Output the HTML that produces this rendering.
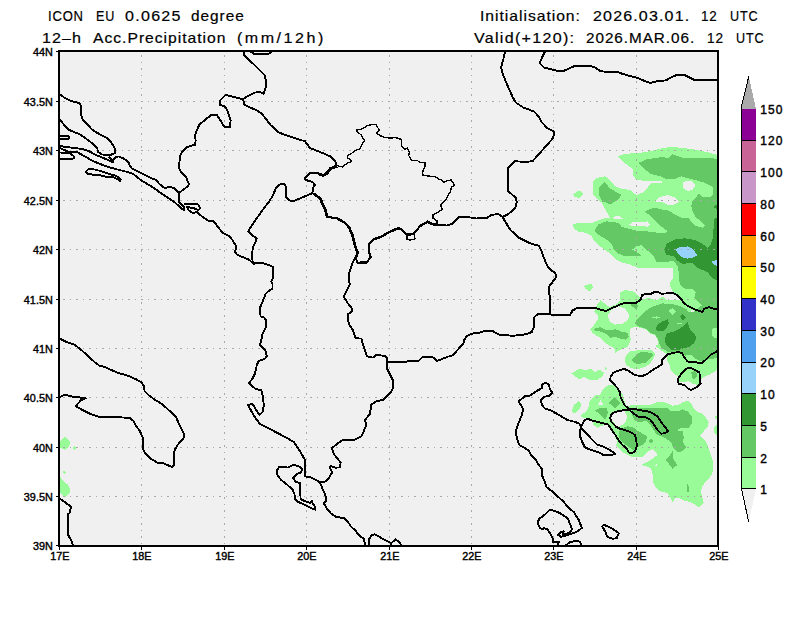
<!DOCTYPE html>
<html><head><meta charset="utf-8"><title>ICON EU precipitation</title>
<style>
html,body{margin:0;padding:0;background:#fff;}
body{width:800px;height:618px;position:relative;overflow:hidden;font-family:"Liberation Sans",sans-serif;color:#000;}
.t{position:absolute;white-space:nowrap;line-height:1;}
.ttl{font-size:13.6px;-webkit-text-stroke:0.2px #000;}
.ax{font-size:10.8px;letter-spacing:0.1px;-webkit-text-stroke:0.4px #000;}
.cb{font-size:12px;letter-spacing:1.1px;-webkit-text-stroke:0.4px #000;}
</style></head><body>
<svg width="800" height="618" viewBox="0 0 800 618" shape-rendering="crispEdges" style="position:absolute;left:0;top:0">
<rect x="59.25" y="51.25" width="658.85" height="494.54999999999995" fill="#f0f0f0"/>
<defs><clipPath id="cp"><rect x="59.25" y="51.25" width="658.85" height="494.54999999999995"/></clipPath></defs>
<g clip-path="url(#cp)">
<polygon points="618.1,156.25 625,153.75 637.5,153.1 650,151.25 662.5,148.1 672.5,146.9 683.75,148.1 693.75,149.4 706.25,151.9 718,155 718,368.75 715,371.25 710,374.4 703.75,376.9 700,380 700,382.5 697.5,385 692.5,383.75 688.75,381.25 685,381.9 678.75,382.5 678.75,376.9 675,374.4 671.25,371.25 669.4,365 666.9,360 667.5,354.4 662.5,351.25 655.6,346.25 658.1,344 657.5,339.6 655,335.25 650,333.4 646.25,329.6 641.25,327.75 634.4,327.1 630,329 630.6,339 630,342.5 627.5,346.9 622.5,348.75 618.75,350.6 615,353.1 614.4,348.1 610,346.25 603.75,341.5 600,337.75 593.75,334 590,329.6 593.75,325.25 598.1,319 597.5,315.25 594.4,311.5 596.25,305.9 600.6,300.25 606.9,305.25 610,307 616.2,304.2 620,300 620,292.1 625,290.25 632.5,290.9 636.25,293.4 640,297.75 642.5,299 650,298 656.25,300.5 662.5,296.5 666.25,300 681.25,299.6 673.1,291.5 669.4,285.25 671.9,279 673.1,278.5 672.5,267.6 661.25,268.25 650,267.6 637.5,267.6 630,264.5 622.5,262.6 616.25,259.5 610,253.25 602.5,248.25 595,242 591.25,235.75 585,232.6 578.75,232 573.75,228.25 572.5,224.25 579.4,222.6 586.25,222.6 592.5,222.6 598.75,220.1 605,218.25 610,217.6 607.5,213.25 603.75,207 601.25,202 598.5,200.5 595,197 592.5,193.75 593.1,181.25 596.25,178.1 605,176.25 610,180 615,186.25 621.25,188.75 630,190 636.25,195 642.5,192.5 647.5,187.5 651.25,182.5 661.9,182.5 661.9,181 655,180.6 642.5,180.6 636.25,179.4 632.5,175 632.5,168.75 622.5,161.25" fill="#98fb98"/>
<polygon points="682.5,183.2 685.5,180.8 691.5,180.8 695.5,185.2 692.5,189.8 687.5,191.2 683.5,188.2" fill="#f0f0f0"/>
<polygon points="655.6,201.5 658.75,197.5 667.5,195 675,197.5 678.75,201.5 677.5,203 672.5,205.1 667.5,204.5 661.9,202" fill="#f0f0f0"/>
<polygon points="629.4,224.5 632.5,222 646.25,222 646.9,220.75 650,224.5 646.9,227 645,226 632.5,226" fill="#f0f0f0"/>
<polygon points="611.25,218.25 616.25,216 620,216.4 623.1,218.9 617.5,218.9" fill="#f0f0f0"/>
<polygon points="607.5,315.25 611.25,310.25 617.5,305.9 625,308.4 629.4,315.25 627.5,320.25 622.5,324 615,324.6 610,322.1" fill="#f0f0f0"/>
<polygon points="584,285.9 591.25,283.4 593.1,287.1 590,291.5 585,288.4" fill="#98fb98"/>
<polygon points="573.1,194.2 579.1,190.2 583.7,194.2 579.1,198.6 574.5,196.6" fill="#98fb98"/>
<polygon points="626.25,355 630,351.25 637.5,350.25 645,349.75 652.5,350.6 655.6,353.75 653.1,358.75 650,363.75 645,366.9 637.5,369.4 631.25,368.1 626.25,365 624.5,360" fill="#98fb98"/>
<polygon points="571.25,373.5 578.75,369 586.25,370 590.6,368.75 595,371.9 600,369.4 604.4,373.1 601.25,377.5 596.25,380.25 590.6,380.25 583.75,376.9 580,379.4 575.6,376.9" fill="#98fb98"/>
<polygon points="605,367 607,368 605.5,370" fill="#98fb98"/>
<polygon points="572,411.25 573.75,405 578.75,401.25 581.7,404 580,408.1 576.25,412.5 573.1,413.1" fill="#98fb98"/>
<polygon points="60,442 64.8,436.8 70.5,442 68.8,446.8 64.8,450 60,447.4" fill="#98fb98"/>
<polygon points="72.6,447.8 74.4,445.6 76.2,448 74.4,450.2" fill="#98fb98"/>
<polygon points="60,476.9 63.75,481.25 67.5,484.4 70.6,490 69.4,493.75 65,496.9 60,492.5" fill="#98fb98"/>
<polygon points="62.6,472.25 64.4,470.4 66.2,472.25 64.4,474.1" fill="#98fb98"/>
<polygon points="608.75,385 615,385.6 618.75,389.4 622.5,393.75 623.75,398.75 626.25,406.25 632.5,405 641.25,405.25 650,405 656.25,402.5 662.5,401.9 667.5,403.1 672.5,405.6 677.5,405.25 682.5,402.5 687.5,400.6 691.25,403.75 693.75,408.75 697.5,411.9 702.5,413.75 706.25,418.1 708.75,422.5 707.5,426.9 703.75,431.25 700,435.6 705,440 707.5,445 710,452.5 712.5,460 713.1,470 711.25,475.6 707.5,480 703.1,485 700.6,491.25 702.5,497.5 703.75,503.1 698.75,507.5 695,504.4 690,501.9 683.75,500.6 678.75,497.5 675.6,498.1 672.5,501.9 670,497.5 667.5,493.1 660,491.25 655,486.25 652.5,481.25 652.5,473.75 651.25,468.75 646.25,466.25 641.25,465 646.25,462.5 652.5,458.75 657.5,455 656.25,452.5 652.5,449.4 648.75,451.25 642.5,456.9 633.75,457.5 627.5,455 621.25,451.25 616.25,446.25 616.9,441.25 615,436.25 611.25,430 608.1,424.4 603.75,425 597.5,427.5 593.75,425.6 592.5,421.25 585,418.1 580,416.25 586.25,411.25 588.75,406.25 590,400 595,395.6 600,394.4 603.75,388.1" fill="#98fb98"/>
<polygon points="718,415 714.4,416.9 718,420" fill="#98fb98"/>
<polygon points="718,424.4 714.4,426.9 714,432.5 718,436.9" fill="#98fb98"/>
<polygon points="611.25,414.4 616.25,411.9 625,411.25 626.9,416.25 626.25,421.25 622.5,425 617.5,426.9 613.75,422.5 611.25,418.75" fill="#f0f0f0"/>
<polygon points="598.1,405 600.6,400 603.5,405" fill="#f0f0f0"/>
<polygon points="655,465.25 656.25,464 657.5,465.25 656.25,466.5" fill="#f0f0f0"/>
<polygon points="638.1,163.1 646.25,159.4 658.75,157.5 663.75,156.9 667.5,158.5 672.5,154.4 683.75,158.1 698.75,157.75 712.5,158.1 718,159.4 718,200 713.5,195 712.5,186.9 703.75,182.5 695,180 687.5,178.1 681.25,176.25 673.75,179.4 667.5,179.4 660,176.25 650,173.75 643.75,168.1" fill="#64c864"/>
<polygon points="598.75,187.5 605,181.9 610,188.75 615,191.25 621.25,194.4 620,197.5 615,201.5 610,204.5 605,202 602.5,201.5 598.75,195" fill="#64c864"/>
<polygon points="692.5,201.5 691.25,205.75 692.5,210.75 695,216.4 700,220.75 705,225.1 702.5,227.6 695,225.75 691.25,222 688.75,217.6 681.25,217.6 675,214.5 668.75,210.75 662.5,209.5 653.75,207.6 645,211.4 650,215.75 655,220.75 661.25,226.4 666.9,230.75 666.25,232.6 656.25,232.6 647.5,231.4 637.5,230.75 630,228.9 621.25,227 620,223.9 615,222 606.25,221.4 598.1,224.5 594.4,231.4 600,235.75 606.25,239.5 611.9,243.9 613.75,249.5 617.5,253.25 623.75,255.75 632.5,255.75 641.25,256.4 641.25,255.1 636.25,252 632.5,249.5 636.25,246.4 641.25,245.1 645,248.9 651.25,253.25 654.4,257.6 656.25,262 666.25,262 673.1,260.75 677.5,265.75 678.75,272 678.75,279 680,284.6 683.75,288.4 692.5,289 695.6,292.1 694.4,297.75 700,303.4 701.9,305.25 697.5,309 693.1,312.1 687.5,311.5 686.25,309 680,305.9 675,304.6 668.75,304 662.5,303.4 656.25,305.25 650,307.75 645,311.5 640,316.5 634.4,322.75 637.5,325.9 641.25,327.1 646.25,329 650,332.75 655,334.6 658.1,339 658.75,342.75 661.25,347.75 667.5,351.5 672.5,352.5 681.9,353.1 685,355.6 691.25,355 695,358.75 700,361.25 705,360 712.5,358.75 718,357.5 718,194 714.4,194.4 710,196.9 701.9,196.9 698.75,193.75" fill="#64c864"/>
<polygon points="668.75,310.9 672.5,307.75 675.6,311.5 672.5,314.6" fill="#98fb98"/>
<polygon points="711.9,329 714.4,327.75 718,329 718,337.75 714.4,337.75 711.9,335.25" fill="#98fb98"/>
<polygon points="652,317 660,317 660,318 652,318" fill="#98fb98"/>
<polygon points="656,316 657,316 657,319 656,319" fill="#98fb98"/>
<polygon points="677,323 682,323 682,324 677,324" fill="#98fb98"/>
<polygon points="691.3,310.3 693.7,310.3 693.7,312.2 691.3,312.2" fill="#f0f0f0"/>
<polygon points="593.75,329 600,327.1 606.25,330.25 611.25,330.25 615,329 621.25,331.5 627.5,332.75 628.75,336.5 626.25,339.6 621.25,339 616.25,337.1 610,337.75 606.25,334 600,331.5 595,330.9" fill="#64c864"/>
<polygon points="630,304.6 636.25,304 638.1,305.9 636.25,309.6 633.1,307.1" fill="#64c864"/>
<polygon points="631.25,360 636.25,355 641.25,351.5 647.5,352.5 653.75,354 650,358.75 645.6,362.5 637.5,364.4 633.75,362.5" fill="#64c864"/>
<polygon points="691.25,372.5 695,370.6 697.5,373.75 696.25,377.5 693.1,379.75 691.9,376.25" fill="#64c864"/>
<polygon points="595,410.6 600,408.1 606.25,407.5 608.1,412.5 606.9,416.25 605,419.4 600,414.4" fill="#64c864"/>
<polygon points="608.75,403.1 615,396.9 620,403.1 615,408.1" fill="#64c864"/>
<polygon points="618.75,431.25 622.5,428.1 627.5,426.25 632.5,426.9 637.5,430.6 642.5,433.75 646.9,436.25 646.25,441.25 642.5,445 637.5,446.9 635,451.25 628.75,446.9 623.75,443.75 620,440 618.75,435" fill="#64c864"/>
<polygon points="631.25,410.6 637.5,408.5 650,408.1 667.5,408.1 671.25,411.25 677.5,411.25 682.5,409.4 687.5,411.25 691.9,416.25 691.9,423.75 688.75,427.5 677.5,428.75 677.5,431.25 682.5,431.25 683.75,437.5 683.1,442.5 686.25,447.5 682.5,451.25 677.5,451.9 673.1,447.5 671.25,442.5 666.25,438.75 661.25,436.25 656.25,434.4 653.75,430 650,424.4 645.6,420.6 640,422.5 635,420.6 632.5,416.25" fill="#64c864"/>
<polygon points="648.1,441 651.25,439 654,441 651.25,443.1" fill="#64c864"/>
<polygon points="665.6,459.4 669.4,456.25 672.5,451.25 673.1,458.75 677.5,465 672.5,468.75 668.75,463.75" fill="#64c864"/>
<polygon points="687.25,484 688.75,487 688.5,492 687.25,492.5" fill="#64c864"/>
<polygon points="718,217 714.4,218.9 713.75,227 712.5,239.5 710.6,245.1 707.5,247.6 702.5,243.9 695,240.1 685,238.25 675,239.5 666.9,243.25 664.4,249.5 666.25,255.1 673.1,255.75 677.5,260.75 682.5,263.9 687.5,263.25 693.1,263.25 696.25,267 702.5,270.1 707.5,272 711.25,277 713.1,279 718,280.5" fill="#329632"/>
<polygon points="713.1,207 718,203.9 718,209.5" fill="#329632"/>
<polygon points="655.6,328.4 658.1,324 662.5,321.5 668.1,319.25 668.75,323.4 666.25,328.4 662.5,331.5 657.5,330.9" fill="#329632"/>
<polygon points="680,316.5 682.75,314 686,317.1 682.75,320.25" fill="#329632"/>
<polygon points="665,337.75 666.9,333.4 673.75,331.5 678.75,329 683.75,325.9 687.5,322.1 690,329 694.4,334 696.25,337.75 694.4,342.75 690,346.5 683.75,348.4 677.5,350.25 671.25,349.6 666.25,345.25 665,341.5" fill="#329632"/>
<polygon points="675.6,249.5 678.75,247.6 687.5,246.4 692.5,248.9 697.5,255.1 693.1,257.6 687.5,258.5 681.25,257 677.5,253.25" fill="#96d2fa"/>
<polygon points="711.25,261.75 718,259.75 718,267 715,265.1" fill="#96d2fa"/>
</g>
<g stroke="#a8a8a8" stroke-width="1" stroke-dasharray="2 4.5 1 5.5" fill="none">
<line x1="141.5" y1="55.25" x2="141.5" y2="545.8"/>
<line x1="224.5" y1="55.25" x2="224.5" y2="545.8"/>
<line x1="306.5" y1="55.25" x2="306.5" y2="545.8"/>
<line x1="389.5" y1="55.25" x2="389.5" y2="545.8"/>
<line x1="471.5" y1="55.25" x2="471.5" y2="545.8"/>
<line x1="553.5" y1="55.25" x2="553.5" y2="545.8"/>
<line x1="636.5" y1="55.25" x2="636.5" y2="545.8"/>
<line x1="63.25" y1="101.5" x2="718.1" y2="101.5"/>
<line x1="63.25" y1="150.5" x2="718.1" y2="150.5"/>
<line x1="63.25" y1="200.5" x2="718.1" y2="200.5"/>
<line x1="63.25" y1="249.5" x2="718.1" y2="249.5"/>
<line x1="63.25" y1="299.5" x2="718.1" y2="299.5"/>
<line x1="63.25" y1="348.5" x2="718.1" y2="348.5"/>
<line x1="63.25" y1="397.5" x2="718.1" y2="397.5"/>
<line x1="63.25" y1="447.5" x2="718.1" y2="447.5"/>
<line x1="63.25" y1="496.5" x2="718.1" y2="496.5"/>
</g>
<g clip-path="url(#cp)" fill="none" stroke="#000" stroke-linejoin="round" stroke-linecap="butt">
<g stroke-width="1.9">
<polyline points="59.5,94.25 65,98 71.25,101.1 79.4,103 81,106.1 80.6,113 83.1,120.5 87.5,124.5 92.5,130 100,134.5 107.5,138.25 111.25,142.5 114.25,147.5 115.4,150.5 115,153.1 111.25,154.6 106,155 101.9,154.4 98.1,152 97.25,148.5 92.5,143.5 86.25,138.75 80,134.4 73.75,131.9 68.5,129.6 63.75,124.5 59.5,119.25"/>
<polyline points="59.5,136 69.25,136.4 68.5,139 59.5,138.9"/>
<polyline points="59.5,146.1 66.25,146.9 74.5,148 82.75,149.1 88.75,151 95.5,154.75 103,157.75 109.75,161 113.1,162.1 113.5,159.9 116.1,156.9 118.75,156.5 122.5,158 126.25,160.25 128.9,163.25 130,165.9 131.5,168.1 137.5,171.1 145,174.9 152.5,178.6 155.5,179.75 160,184.4 164.5,188 169.75,186.9 174.25,188.4 179.1,192.9"/>
<polyline points="109,156.9 113.1,161"/>
<polyline points="59.5,147.6 64.75,150.25 70,152.1 75.25,152.5 76.4,151.75 80.5,154 86.5,157.4 94,161.5 101.5,164.5 107.5,166.6 115,168.9 122.5,170.75 128.5,172.25 133,173.75 137.5,177.5 142,180.9 146.5,183.5 150.25,185.75 155,188.75 160,192.5 167.5,197.4 175,202.6 184,210.5"/>
<polyline points="59.5,152.5 70,152.9 73.75,156.25 74.5,158.1 71.5,158.9 59.5,158.9"/>
<polyline points="85.75,172 88,169.4 94,169.4 100,170.9 107.5,173.5 115,175.6 118.75,177.5 120.6,179.75 120.25,181.25 118,179.4 114.25,177.5 107.5,177.1 100,175.25 92.5,174.6 87.25,173.5 85.75,172"/>
<polyline points="243.75,51.5 243.75,55 255,65.5 264.4,74.9 266,80.5 265.6,87.5 263.75,93.6 258.75,91.75 255,92.6 247.5,96.1 243.1,99.25 225.6,94.9 220,100.5 220,104.9 224.4,106.1 227.5,110.5 230.6,120.5 230,126.9 224.4,126.9 221.25,121.75 216.9,114.9 211.25,114.9 199.4,124.5 196.9,130 195,135 195.6,140 195.25,145 191.25,145.6 186.25,147.5 182.5,151.25 180,156.25 179.4,162.5 178.75,167.5 181.25,172.5 186.25,177.5 188.75,183.75 188.1,186.1 184,189.1 179.1,192.9 179.1,201.9 184,206.75 184,210.5"/>
<polyline points="250,51.5 255,54.4 267.5,54.4 271.9,51.5"/>
<polyline points="243.1,99.25 244.4,104.9 255,109.6 261.25,113 270.6,125 278.75,132.5 292.5,137.5 305,141.25 310,148.1 320,151.9 330,156.25 335,160.6 336.9,165.6"/>
<polyline points="336.9,165.6 330,168.1 326.9,172.5 323.1,175 317.5,173.1 310,173.1 304.4,178.75 307.5,180.6 312.5,181.9 315,185 313.1,187.5 312.5,193.1"/>
<polyline points="312.5,193.1 296.25,200 292.5,201.5 288.75,200 285.6,196.25 286.25,193.1 286.25,187.5 284.4,183.75 280,184.4 276.25,187.5 272.5,196.25 268.75,202 262.5,210.1 255,220.75 248.1,231.4 251.25,234.5 256.9,238.5 255,243 253.1,247 251.9,254.5 252.5,260.75 253.75,263.9"/>
<polyline points="312.5,193.1 320,198.75 321.25,202 324.4,208.25 326.9,217 336.25,218.25 344.4,222.6 348.75,227.6 351.9,234.5 353.75,242 355,247 357.5,253 355.5,257.5 357.5,263.25 366.25,263 370.6,257.6 369,252 369.4,243.25 373.75,239.5 380,237.6 388.75,232.6 398.1,228.5 401.25,229.75 406.9,235.1 413.1,234.25 420,226.4 427.5,222 432.5,224.5 437.5,225.1 447.5,225.5 451.9,223.9 455,220.75 458.75,217 467.5,217 476.25,218.5 487.5,217.6 491.25,215.1 498.1,213.9 502.5,217"/>
<polyline points="355.5,257.5 351.9,264.5 349.4,272 348.75,278.5 349.75,284.6 346.9,290.25 343.75,296.5 347.5,302.75 352.25,309 351.9,311.5 347.5,314.6 348.75,324 353.1,330.25 355.6,338.4 361.25,338.5 363.75,347 366.9,356.4 373.1,357.6 375.6,355.1 385,355.75 387.25,358.25 387.25,362"/>
<polyline points="387.25,362 405,362 408.75,361 418.75,360.9 422.5,356.9 432.5,356.9 436.9,361 440,360 446.25,357.25 453.1,355 457.5,350 463.5,343.1 464,340 466.9,336.25 471.25,333.75 478.75,332.75 486.25,330.6 492.5,331 499.4,334.75 505,335 511.25,335.75 520,335.25 527.5,333.75 531.9,331.9 534,326.25 534.4,316.9 538.1,314 550,314.4"/>
<polyline points="387.25,362 387.25,368.9 391.25,377 393.1,380.75 393.1,388.25 390,393.25 383.75,399.5 376.25,401.4 371.25,404.5 370,413.75 365,420 366.25,425 363.75,431.25 361.25,436.25 354.4,439.75 343.4,439.75 337.2,443.75 331.9,448.1 333.75,453.75 337.5,458.75 340.6,462.5 340,467.5 335,467.6 330.3,466 330,468.1 332.2,472.2 328.75,478.1 324.4,482.25 320,482.25"/>
<polyline points="505,51.5 503.1,60.5 501,67.4 503.1,74.9 507.5,85.5 512.5,96.75 515.6,102.4 523.1,107.4 534.4,111.75 538.75,116.75 541.25,121.75 544.4,125 546.25,127.5 553.75,131.25 554.4,133.75 552.5,138.75 542.5,150 532.5,161.25 525.6,161.9 515,161.25 508.1,168.1 508.1,191.25 515.6,197.5 516.9,202 515,208.25 512.5,210.75 507.5,214.5 502.5,217"/>
<polyline points="502.5,217 506.25,223.25 510,229.5 518.75,237.6 530,243.25 538.75,245.75 541.25,250.75 545,260.75 547.5,266.25 550.6,270 555,272.5 556.25,276.9 553.1,281.25 549.4,286.25 548.75,291.25 550,297.5 550.25,310 550,314.4"/>
<polyline points="550,314.4 557.5,315.25 570,315.25 572.5,310.6 576.9,308.1 586.25,307.9 595.6,308 600,309.6 606.25,310.9 610,308.75 616.25,306.5 621.25,304 626.25,302.5 630,303.4 636.25,302.75 640.6,299.6 641.9,295.25 645,294 650,294.25 655,291.75 657.5,291.5 661.25,293.75 673.1,293 677.5,295.25 681.25,299 683.75,302.75 687.5,305.9 695,309.6 702.5,312.1 703.75,309 708.75,307.1 712.5,308.4 717.5,309.6"/>
<polyline points="545,51.5 540,61.75 540.6,64.25 543.75,67.4 550,69 555,70.25 558.1,71.1 563.1,71.1 574.4,66.1 591.25,66.1 595,67.4 600,70.9 605,71.75 617.5,72 622.5,73.9 637.5,78 645,81.1 650.6,83 655,81.75 658.75,80.75 665.6,80.5 671.25,77.4 677.5,74.6 683.75,74.6 688.1,76.75 694.4,79.9 717.5,79.9"/>
<polyline points="184,203.75 197.5,203.75 200.5,208.25 198.25,210.1 193,207.9 187,207.1 188.9,210.5 193,213.1 196.75,212 202,216.5 208,220.6 213.25,220.6 217.5,226.4 223.1,233.25 228.75,235.75 232.5,240.1 236.25,246.4 235,252 237.5,255.1 242.5,257 248.75,259.5 253.75,263.9 255,263.25 261.25,262.6 267.5,264.5 273.1,267 273.5,273.25 272.5,279 271.25,281.5 272.5,284 272.5,288.4 268.75,290.9 265.6,294 263.1,300.25 260,307.75 260.6,316.5 264.4,317.75 266.25,320.9 265.6,327.75 262.5,334 261.25,340.25 260,345.25 265,349.6 266.9,356 265,358.5 261.9,360 258.75,361 256.9,364.75 255,373.5 252.5,378.5 249,383.25 255,388.5 261.25,390.4 263.1,397.25 263.75,406 262.5,412.25 259.4,414.75 256.9,411 253.75,406 251.9,404.1 248.1,405 251.25,411 255,417.25 260,424.1 270,429.1 282.5,435.6 293.75,441.9 300,451.25 305,460 305,476.25 311.25,477.5 320,482.25 321.9,487.5 325,493.75 326.25,498.75 325.6,501.9 323.75,503.1 326.9,508.75 331.25,513.75 336.25,516.9 343.75,518.1 347.5,521.25 351.25,526.9 355,530 358.75,535 363.75,538.75 365.25,545.5"/>
<polyline points="368.75,545.5 369,539.4 371.25,535.6 374.4,534.4 377.5,535.6 383.75,539.4 391.25,543.1 391.25,545.5"/>
<polyline points="391.25,543.1 395.6,539.4 398.75,541.9 401.9,545.5"/>
<polyline points="276.9,470 279.4,466.9 288.1,467.5 293.75,464.75 298.75,466.25 302.5,469.4 300.6,472.5 296.25,474.4 293.1,478.1 295.6,481.9 300,483.1 300.6,499 305,501.25 310,502.75 311.9,500.6 312.5,503.1 315,506.9 315.6,509.75 311.25,508.1 305,505 298.1,501.9 295,498.75 294.4,493.75 292.5,489.4 287.5,485 281.25,480 277.5,475.6 276.9,470"/>
<polyline points="59.5,338.5 66.25,341.9 73.75,344.4 80,348.75 87.5,355.6 95,362.5 99.4,365.6 105,366.9 111.25,370 118.75,373.1 127.5,375.6 135,378.75 141.25,382.2 144,386.25 144.6,391.25 150,396.25 156.25,400.6 162.5,404.4 170,411.25 176.25,417.5 180,426.25 184.4,435 183.1,438.75 177.5,445 174.5,450.5 173.75,456.5 173.75,465.6 171.9,467.1 167.5,465 162.5,463.1 157.5,462.75 150,458.1 145,453.1 142.6,447.5 142.6,437.5 140,431.25 136.25,426.25 133.75,421.25 130,418.1 120,417.25 98.75,416.9 91.25,414.4 82.5,410 75.6,406.25 81.25,400 85.6,398.3 80,397.5 73.75,396.9 68.75,395.6 64.4,394.75 59.5,397.5"/>
<polyline points="59.5,498.5 65,502.25 71.25,506.9 69.4,513.1 67.9,514.4 67.9,534.4 71.25,540.6 73.1,545.5"/>
<polyline points="580.6,426.25 579.4,423.75 575,421.9 567.5,420 560,415.6 552.5,411.25 544.4,408.1 541.9,404.4 540.6,400.6 543.75,396.9 549.4,395.6 552.5,393.1 550,389.4 548.75,384.4 545,382.75 541.9,385 541.9,388.1 537.5,390.6 529.4,396 525,396.25 518.75,401.25 520,403.75 523.1,408.75 521.9,415 518.75,422.5 515.6,431.9 516,433.75 517.5,440 519.4,445 528.1,450 531.25,455 535.6,459.4 538.75,465 541.9,468.75 541.9,475 545,482.5 546.25,486.9 551.25,490.6 557.5,496.25 563.75,501.9 567.5,506.9 573.75,511.9 578.75,520 581.9,528.1 576.25,531.9 567.5,535 561.25,536.9 558.1,535 560.6,531.9 563.75,531.25 562.5,535 570,532.5 571.9,529.4 570,523.75 567.5,518.1 560,513.1 553.75,510.6 550,509.4 543.75,515.6 539.4,518.75 537.5,522.5 540,528.1 542.5,529.4 543.75,528.1 547.5,529.4 551.25,535 553.1,539.4 553.1,541.9 558.75,541.9 557.5,545.5"/>
<polyline points="565.6,545.5 570,541.9 575,541.25 579.4,541.5 581.9,545.5"/>
<polyline points="601.9,525.6 605,525.25 611.25,528.1 618.75,533.1 616.9,538.1 613.1,538.75 607.5,536.9 605,531.25 601.9,525.6"/>
<polyline points="580.6,426.9 580,436.25 582.5,442.5 585,447.5 591.25,450 598.75,452.5 603.1,454.75 612.5,454.75 615.25,453.75 610,450 603.75,446.9 596.9,444.4 591.25,438.75 586.25,433.1 581.9,428.75 580.6,426.9"/>
<polyline points="580.6,426.9 584.4,420.6 587.5,418.75 592.5,420.6 600,422.5 608.1,424.4 611.25,429.4 616.25,436.25 618.75,440.6 621.9,444.4 626.9,448.75 628.75,452.5 631.9,453.1 635,451.25 636.9,445.6 636.25,440 635,435 631.25,432.5 626.25,430.6 620,428.75 616.25,426.9 611.9,422.5 610,418.1 611.25,414.4 615,411.9 621.25,410.6 626.25,410 630,410.6 633.75,413.75 638.75,416.9 646.25,417.5 650,419.4 653.75,424.4 657.5,430 661.25,433.75 665,433.1 668.1,431.25 665,426.9 661.25,422.5 657.5,416.25 650,411.9 642.5,410.6 633.75,408.75 628.75,408.75 625,405.6 623.1,402.5 620.6,397.5 620,392.5 617.5,388.1 613.1,383.1 610,380 610.6,376.9 613.1,372.75 618.75,370.6 623.75,368.75 628.75,371 635,375.25 642.5,376 647.5,373.75 653.75,369.4 661.9,364.4 662.25,360 667.5,354.4 672.5,353.1 678.75,351.9 681.9,353.1 684.4,357.5 687.5,361.5 695,362.25 701.9,363.1 706.25,359.4 711.25,354.4 717.5,351"/>
<polyline points="678.75,377.5 681.9,373.1 686.25,368.75 690,367.5 695,370 699.4,372.5 700,378.75 700.6,383.75 696.25,387.5 690.6,390 687.5,388.1 684.4,385 678.75,383.75 677.75,380.6 678.75,377.5"/>
</g><g stroke-width="1.35">
<polyline points="336.9,165.6 342.5,166.9 348.1,162.5 351.25,161.9 350.6,159.4 347.5,157.75 348.1,155 351.9,153.1 355,150.4 360,148.75 362.5,143.75 364.4,140.6 361.25,135 357.5,131.9 356.25,130 361.25,129.4 366.25,126.25 367.5,125.5 372,124.6 376,124.6 376.6,126 379.4,130 376.25,133.1 380,135.6 385,137.5 391.25,138.1 395,137.5 397.5,138.1 401.25,139.4 401.9,146.25 404.4,149.4 407.5,148.1 409.4,151.9 408.75,155.6 411.9,160.6 417.5,160.6 420,162.5 425,162.5 425,166.25 423.1,170 422.5,175 430,176.25 435,176.25 438.1,178.75 442.5,180.6 443.75,182.5 447.5,180.6 451.25,180 454.4,185 451.25,187.5 450.6,191.25 448.1,195 446.25,198.75 443.75,202 440.6,205.1 442.5,209.5 438.1,212 433.1,214.5 433.1,218.25 436.9,220.75 437.5,225.1"/>
<polyline points="337.5,166.8 331,169.2 327.8,173.6 323.5,176.2 318,174.3"/>
<polyline points="313.50,192.80 321.00,198.45 322.25,201.70 325.40,207.95 327.90,216.70 337.25,217.95 345.40,222.30 349.75,227.30 352.90,234.20 354.75,241.70 356.00,246.70 358.50,252.70 356.50,257.20"/>
<polyline points="357.80,262.25 366.55,262.00 370.90,256.60 369.30,251.00 369.70,242.25 374.05,238.50 380.30,236.60 389.05,231.60 398.40,227.50 401.55,228.75 407.20,234.10 413.40,233.25 420.30,225.40 427.80,221.00 432.80,223.50 437.80,224.10"/>
<polyline points="406.9,235.1 406.9,239.5 410,240.1 415,238.9 414.4,234.5"/>
</g></g>
<rect x="59.25" y="51.25" width="658.85" height="494.54999999999995" fill="none" stroke="#000" stroke-width="2"/>
<g stroke="#000" stroke-width="1">
<line x1="59.5" y1="546.8" x2="59.5" y2="549.8"/>
<line x1="141.5" y1="546.8" x2="141.5" y2="549.8"/>
<line x1="224.5" y1="546.8" x2="224.5" y2="549.8"/>
<line x1="306.5" y1="546.8" x2="306.5" y2="549.8"/>
<line x1="389.5" y1="546.8" x2="389.5" y2="549.8"/>
<line x1="471.5" y1="546.8" x2="471.5" y2="549.8"/>
<line x1="553.5" y1="546.8" x2="553.5" y2="549.8"/>
<line x1="636.5" y1="546.8" x2="636.5" y2="549.8"/>
<line x1="718.5" y1="546.8" x2="718.5" y2="549.8"/>
<line x1="55.75" y1="51.5" x2="58.25" y2="51.5"/>
<line x1="55.75" y1="101.5" x2="58.25" y2="101.5"/>
<line x1="55.75" y1="150.5" x2="58.25" y2="150.5"/>
<line x1="55.75" y1="200.5" x2="58.25" y2="200.5"/>
<line x1="55.75" y1="249.5" x2="58.25" y2="249.5"/>
<line x1="55.75" y1="299.5" x2="58.25" y2="299.5"/>
<line x1="55.75" y1="348.5" x2="58.25" y2="348.5"/>
<line x1="55.75" y1="397.5" x2="58.25" y2="397.5"/>
<line x1="55.75" y1="447.5" x2="58.25" y2="447.5"/>
<line x1="55.75" y1="496.5" x2="58.25" y2="496.5"/>
<line x1="55.75" y1="545.5" x2="58.25" y2="545.5"/>
</g>
<rect x="741.5" y="108.30" width="14.5" height="32.02" fill="#8c0096"/>
<rect x="741.5" y="140.02" width="14.5" height="32.02" fill="#c86496"/>
<rect x="741.5" y="171.74" width="14.5" height="32.02" fill="#c896c8"/>
<rect x="741.5" y="203.46" width="14.5" height="32.02" fill="#ff0000"/>
<rect x="741.5" y="235.18" width="14.5" height="32.02" fill="#ffa000"/>
<rect x="741.5" y="266.90" width="14.5" height="32.02" fill="#ffff00"/>
<rect x="741.5" y="298.62" width="14.5" height="32.02" fill="#3232c8"/>
<rect x="741.5" y="330.34" width="14.5" height="32.02" fill="#50a0f0"/>
<rect x="741.5" y="362.06" width="14.5" height="32.02" fill="#96d2fa"/>
<rect x="741.5" y="393.78" width="14.5" height="32.02" fill="#329632"/>
<rect x="741.5" y="425.50" width="14.5" height="32.02" fill="#64c864"/>
<rect x="741.5" y="457.22" width="14.5" height="32.02" fill="#98fb98"/>
<polygon points="741.5,109 748.75,76.5 756.0,109" fill="#aaaaaa"/>
<polygon points="741.5,488.94 748.75,522 756.0,488.94" fill="#f0f0f0"/>
<g stroke="#000" stroke-width="1" fill="none">
<line x1="741.5" y1="140.5" x2="756.0" y2="140.5"/>
<line x1="741.5" y1="171.5" x2="756.0" y2="171.5"/>
<line x1="741.5" y1="203.5" x2="756.0" y2="203.5"/>
<line x1="741.5" y1="235.5" x2="756.0" y2="235.5"/>
<line x1="741.5" y1="266.5" x2="756.0" y2="266.5"/>
<line x1="741.5" y1="298.5" x2="756.0" y2="298.5"/>
<line x1="741.5" y1="330.5" x2="756.0" y2="330.5"/>
<line x1="741.5" y1="362.5" x2="756.0" y2="362.5"/>
<line x1="741.5" y1="393.5" x2="756.0" y2="393.5"/>
<line x1="741.5" y1="425.5" x2="756.0" y2="425.5"/>
<line x1="741.5" y1="457.5" x2="756.0" y2="457.5"/>
<line x1="741.5" y1="488.5" x2="756.0" y2="488.5"/>
<polyline points="748.75,76.5 741.5,106 741.5,488.94 748.75,522"/>
</g>
</svg>
<div class="t ttl" style="left:48.00px;top:8.78px;font-size:14.6px;letter-spacing:0.900px;transform:scaleX(0.8929);transform-origin:0 0">ICON</div>
<div class="t ttl" style="left:95.50px;top:8.78px;font-size:14.6px;letter-spacing:0.900px;transform:scaleX(0.8611);transform-origin:0 0">EU</div>
<div class="t ttl" style="left:124.50px;top:8.78px;font-size:14.6px;letter-spacing:1.156px;transform:scaleX(1.1000);transform-origin:0 0">0.0625</div>
<div class="t ttl" style="left:191.00px;top:8.78px;font-size:14.6px;letter-spacing:0.900px;transform:scaleX(1.0554);transform-origin:0 0">degree</div>
<div class="t ttl" style="left:42.00px;top:30.98px;font-size:14.6px;letter-spacing:0.990px;transform:scaleX(1.1000);transform-origin:0 0">12–h</div>
<div class="t ttl" style="left:93.00px;top:30.98px;font-size:14.6px;letter-spacing:0.900px;transform:scaleX(1.0766);transform-origin:0 0">Acc.Precipitation</div>
<div class="t ttl" style="left:236.90px;top:30.98px;font-size:14.6px;letter-spacing:2.281px;transform:scaleX(1.1000);transform-origin:0 0">(mm/12h)</div>
<div class="t ttl" style="left:480.00px;top:8.78px;font-size:14.6px;letter-spacing:0.900px;transform:scaleX(1.0756);transform-origin:0 0">Initialisation:</div>
<div class="t ttl" style="left:592.50px;top:8.78px;font-size:14.6px;letter-spacing:1.034px;transform:scaleX(1.1000);transform-origin:0 0">2026.03.01.</div>
<div class="t ttl" style="left:701.25px;top:8.78px;font-size:14.6px;letter-spacing:0.900px;transform:scaleX(0.9207);transform-origin:0 0">12</div>
<div class="t ttl" style="left:729.50px;top:8.78px;font-size:14.6px;letter-spacing:0.900px;transform:scaleX(0.8647);transform-origin:0 0">UTC</div>
<div class="t ttl" style="left:473.75px;top:30.98px;font-size:14.6px;letter-spacing:1.170px;transform:scaleX(1.1000);transform-origin:0 0">Valid(+120):</div>
<div class="t ttl" style="left:586.25px;top:30.98px;font-size:14.6px;letter-spacing:0.900px;transform:scaleX(1.0483);transform-origin:0 0">2026.MAR.06.</div>
<div class="t ttl" style="left:707.00px;top:30.98px;font-size:14.6px;letter-spacing:0.900px;transform:scaleX(0.9353);transform-origin:0 0">12</div>
<div class="t ttl" style="left:735.50px;top:30.98px;font-size:14.6px;letter-spacing:0.900px;transform:scaleX(0.8647);transform-origin:0 0">UTC</div>
<div class="t ax" style="right:747.0px;top:47.131px;">44N</div>
<div class="t ax" style="right:747.0px;top:97.131px;">43.5N</div>
<div class="t ax" style="right:747.0px;top:146.131px;">43N</div>
<div class="t ax" style="right:747.0px;top:196.131px;">42.5N</div>
<div class="t ax" style="right:747.0px;top:245.131px;">42N</div>
<div class="t ax" style="right:747.0px;top:295.131px;">41.5N</div>
<div class="t ax" style="right:747.0px;top:344.131px;">41N</div>
<div class="t ax" style="right:747.0px;top:393.131px;">40.5N</div>
<div class="t ax" style="right:747.0px;top:443.131px;">40N</div>
<div class="t ax" style="right:747.0px;top:492.131px;">39.5N</div>
<div class="t ax" style="right:747.0px;top:541.131px;">39N</div>
<div class="t ax" style="left:9.899999999999999px;width:100px;text-align:center;top:551.131px;">17E</div>
<div class="t ax" style="left:91.9px;width:100px;text-align:center;top:551.131px;">18E</div>
<div class="t ax" style="left:174.9px;width:100px;text-align:center;top:551.131px;">19E</div>
<div class="t ax" style="left:256.9px;width:100px;text-align:center;top:551.131px;">20E</div>
<div class="t ax" style="left:339.9px;width:100px;text-align:center;top:551.131px;">21E</div>
<div class="t ax" style="left:421.9px;width:100px;text-align:center;top:551.131px;">22E</div>
<div class="t ax" style="left:503.9px;width:100px;text-align:center;top:551.131px;">23E</div>
<div class="t ax" style="left:586.9px;width:100px;text-align:center;top:551.131px;">24E</div>
<div class="t ax" style="left:668.9px;width:100px;text-align:center;top:551.131px;">25E</div>
<div class="t cb" style="left:760.3px;top:103.69px;">150</div>
<div class="t cb" style="left:760.3px;top:135.40999999999997px;">120</div>
<div class="t cb" style="left:760.3px;top:167.13px;">100</div>
<div class="t cb" style="left:760.3px;top:198.84999999999997px;">80</div>
<div class="t cb" style="left:760.3px;top:230.57px;">60</div>
<div class="t cb" style="left:760.3px;top:262.28999999999996px;">50</div>
<div class="t cb" style="left:760.3px;top:294.01px;">40</div>
<div class="t cb" style="left:760.3px;top:325.72999999999996px;">30</div>
<div class="t cb" style="left:760.3px;top:357.45px;">20</div>
<div class="t cb" style="left:760.3px;top:389.17px;">10</div>
<div class="t cb" style="left:760.3px;top:420.89px;">5</div>
<div class="t cb" style="left:760.3px;top:452.60999999999996px;">2</div>
<div class="t cb" style="left:760.3px;top:484.33px;">1</div>
</body></html>
